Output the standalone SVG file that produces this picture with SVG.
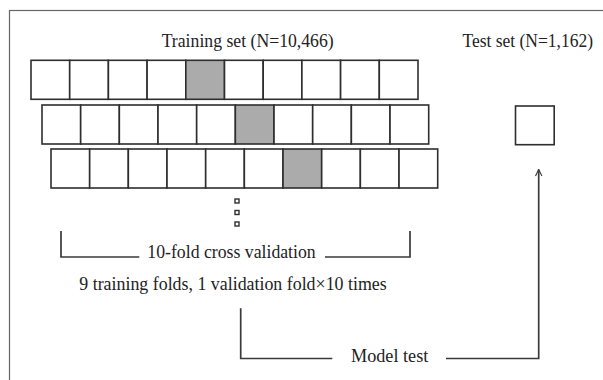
<svg xmlns="http://www.w3.org/2000/svg" width="603" height="380" viewBox="0 0 603 380">
<defs>
<style>
.cell{fill:#fff;stroke:#2e2e2e;stroke-width:1.6}
.sel{fill:#ababab;stroke:#2e2e2e;stroke-width:1.6}
.lbl{font-family:"Liberation Serif","Times New Roman",serif;font-size:18.5px;fill:#222}
.con{fill:none;stroke:#3a3a3a;stroke-width:1.7}
.dot{fill:#fff;stroke:#2e2e2e;stroke-width:1.4}
</style>
<marker id="arr" viewBox="0 0 10 10" refX="9" refY="5" markerWidth="8" markerHeight="8" orient="auto" markerUnits="userSpaceOnUse">
<path d="M1,1 L9,5 L1,9" fill="none" stroke="#3a3a3a" stroke-width="1.4"/>
</marker>
</defs>
<rect width="603" height="380" fill="#fff"/>
<rect x="9.5" y="10.5" width="640" height="420" fill="none" stroke="#666" stroke-width="1.2"/>

<g id="title-train"><text class="lbl" x="161.7" y="46.7" textLength="172" lengthAdjust="spacingAndGlyphs">Training set (N=10,466)</text></g>
<g id="title-test"><text class="lbl" x="462.5" y="46.7" textLength="130.5" lengthAdjust="spacingAndGlyphs">Test set (N=1,162)</text></g>

<g id="row1">
<rect class="cell" x="31" y="60.3" width="38.7" height="39"/>
<rect class="cell" x="69.7" y="60.3" width="38.7" height="39"/>
<rect class="cell" x="108.4" y="60.3" width="38.7" height="39"/>
<rect class="cell" x="147.1" y="60.3" width="38.7" height="39"/>
<rect class="sel" x="185.8" y="60.3" width="38.7" height="39"/>
<rect class="cell" x="224.5" y="60.3" width="38.7" height="39"/>
<rect class="cell" x="263.2" y="60.3" width="38.7" height="39"/>
<rect class="cell" x="301.9" y="60.3" width="38.7" height="39"/>
<rect class="cell" x="340.6" y="60.3" width="38.7" height="39"/>
<rect class="cell" x="379.3" y="60.3" width="38.7" height="39"/>
</g>
<g id="row2">
<rect class="cell" x="42" y="105" width="38.67" height="39"/>
<rect class="cell" x="80.67" y="105" width="38.67" height="39"/>
<rect class="cell" x="119.34" y="105" width="38.67" height="39"/>
<rect class="cell" x="158.01" y="105" width="38.67" height="39"/>
<rect class="cell" x="196.68" y="105" width="38.67" height="39"/>
<rect class="sel" x="235.35" y="105" width="38.67" height="39"/>
<rect class="cell" x="274.02" y="105" width="38.67" height="39"/>
<rect class="cell" x="312.69" y="105" width="38.67" height="39"/>
<rect class="cell" x="351.36" y="105" width="38.67" height="39"/>
<rect class="cell" x="390.03" y="105" width="38.67" height="39"/>
</g>
<g id="row3">
<rect class="cell" x="51" y="149" width="38.67" height="39"/>
<rect class="cell" x="89.67" y="149" width="38.67" height="39"/>
<rect class="cell" x="128.34" y="149" width="38.67" height="39"/>
<rect class="cell" x="167.01" y="149" width="38.67" height="39"/>
<rect class="cell" x="205.68" y="149" width="38.67" height="39"/>
<rect class="cell" x="244.35" y="149" width="38.67" height="39"/>
<rect class="sel" x="283.02" y="149" width="38.67" height="39"/>
<rect class="cell" x="321.69" y="149" width="38.67" height="39"/>
<rect class="cell" x="360.36" y="149" width="38.67" height="39"/>
<rect class="cell" x="399.03" y="149" width="38.67" height="39"/>
</g>
<g id="test-set"><rect class="cell" x="515.5" y="106" width="38.7" height="38.7"/></g>
<g id="ellipsis">
<rect class="dot" x="235" y="199" width="4" height="4"/>
<rect class="dot" x="235" y="210.5" width="4" height="4"/>
<rect class="dot" x="235" y="222" width="4" height="4"/>
</g>

<g id="cv-label"><text class="lbl" x="147.3" y="258.3" textLength="168.4" lengthAdjust="spacingAndGlyphs">10-fold cross validation</text></g>
<g id="cv-note"><text class="lbl" x="79.3" y="289.5" textLength="307.4" lengthAdjust="spacingAndGlyphs">9 training folds, 1 validation fold×10 times</text></g>
<g id="model-test"><text class="lbl" x="351" y="362" textLength="77.3" lengthAdjust="spacingAndGlyphs">Model test</text></g>

<g id="connectors">
<path class="con" d="M61,231 V257 H139.3"/>
<path class="con" d="M325,257 H410 V231"/>
<path class="con" d="M240.7,308.3 V358.5 H332.3"/>
<path class="con" d="M446,358.5 H538.7 V169.5" marker-end="url(#arr)"/>
</g>
</svg>
